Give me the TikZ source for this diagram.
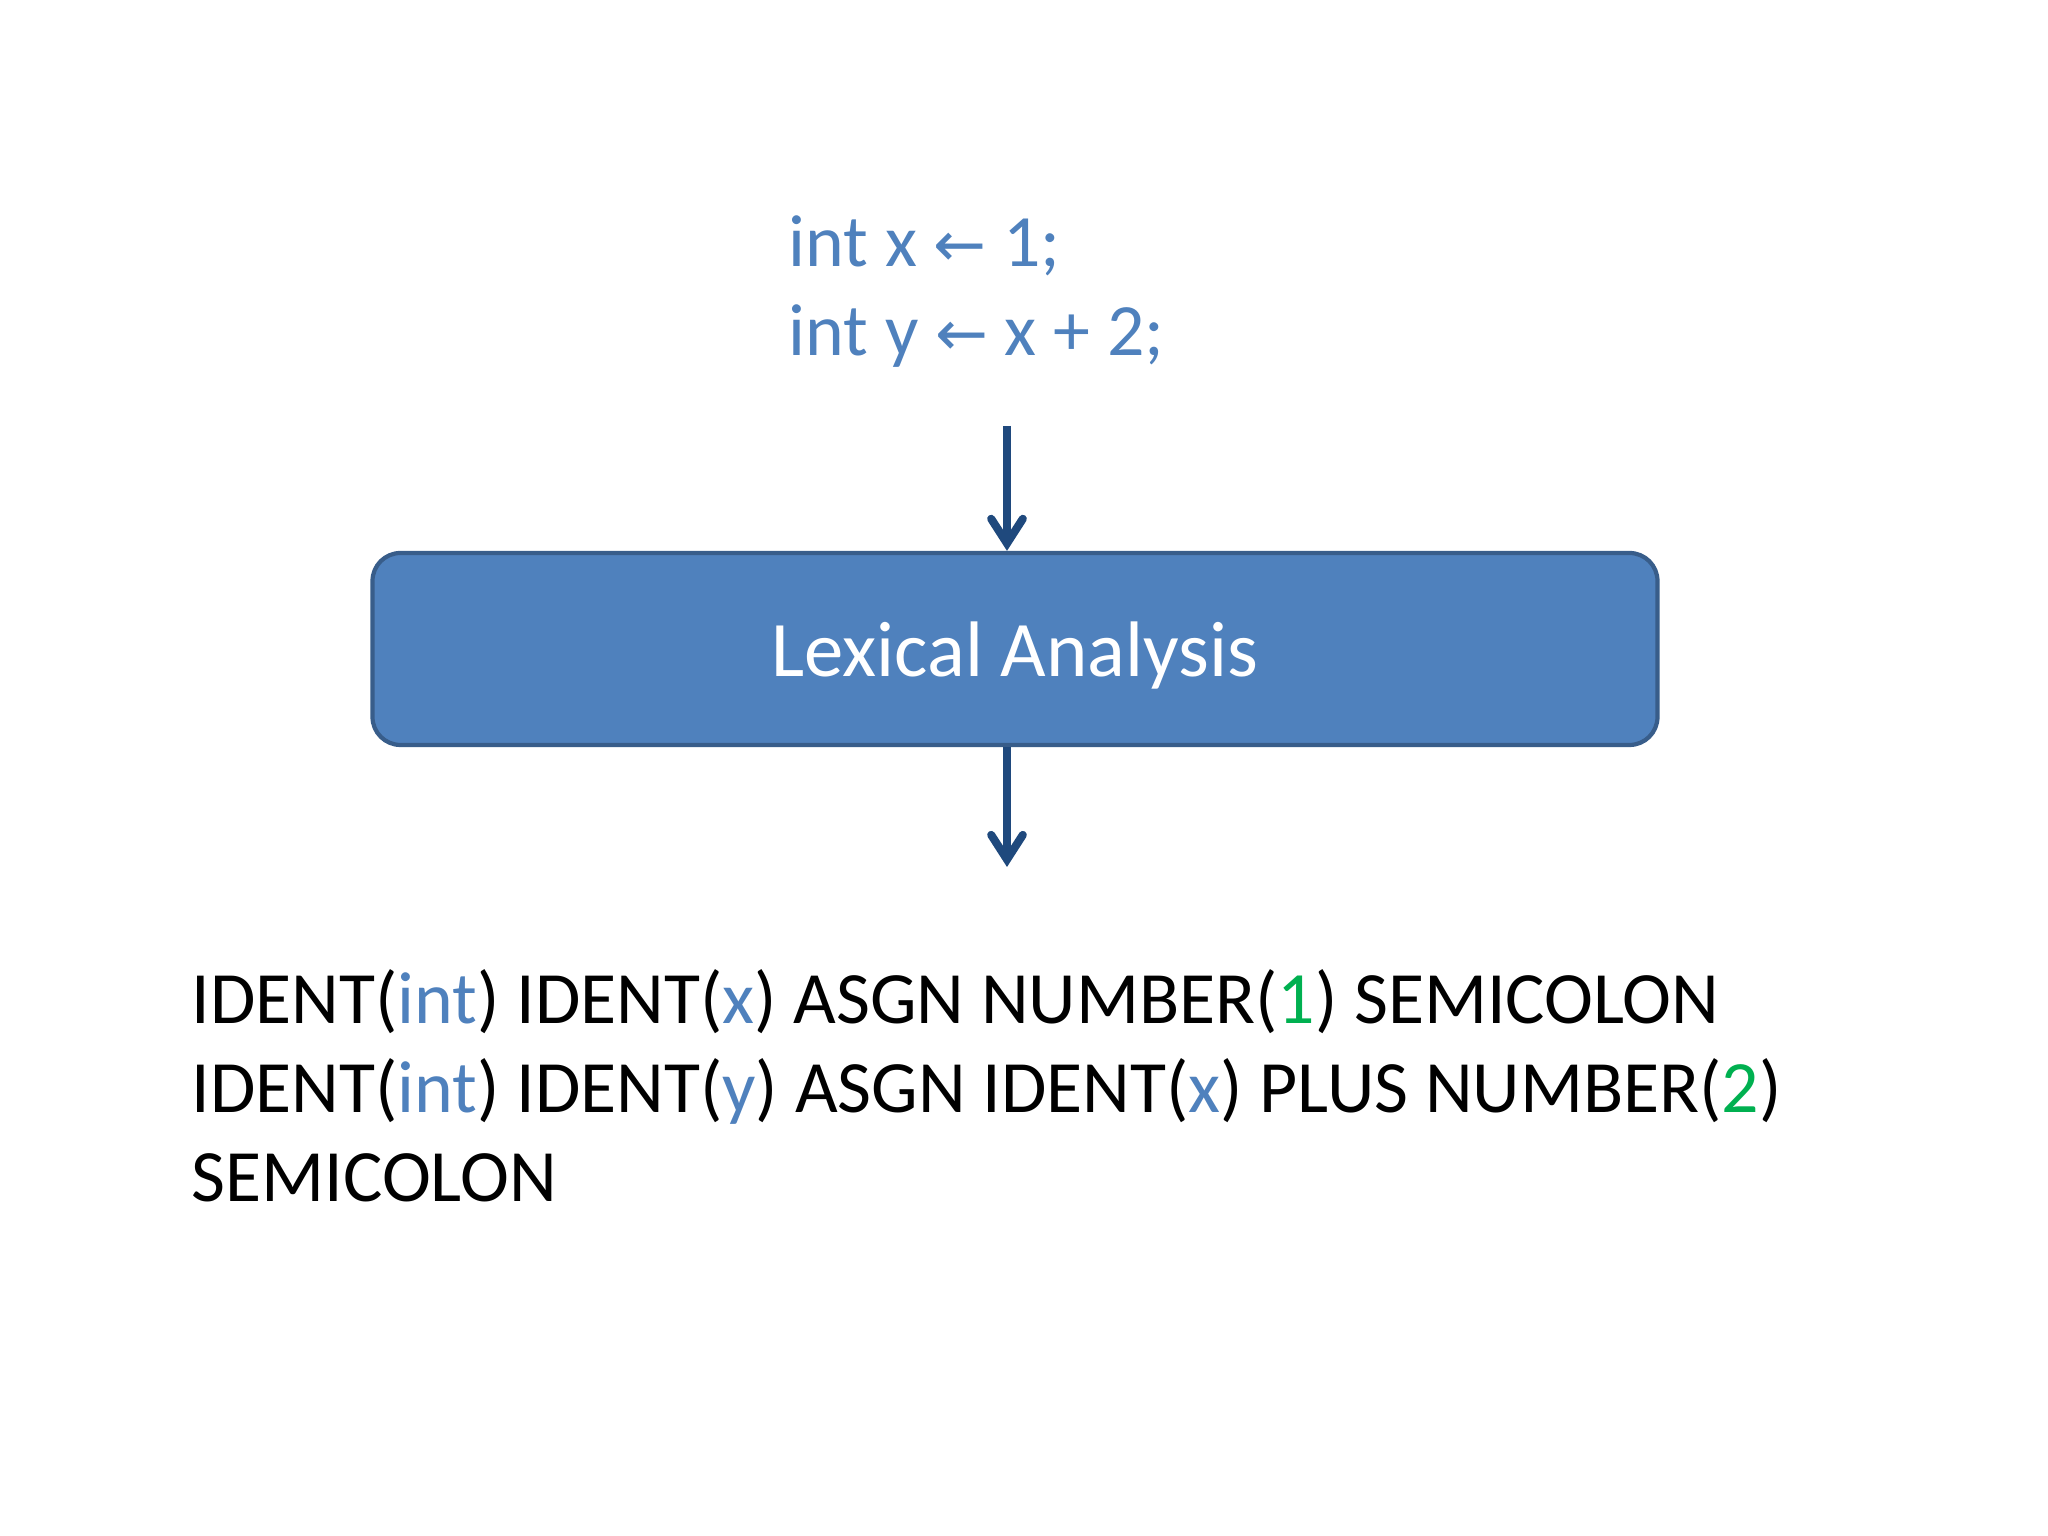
\documentclass[tikz,border=0pt]{standalone}
\usepackage{fontspec}
\usepackage{xcolor}
\usetikzlibrary{arrows.meta}
\setmainfont{Carlito}
\newfontfamily\symfont{DejaVu Sans}

\definecolor{codeblue}{HTML}{4F81BD}
\definecolor{boxline}{HTML}{385D8A}
\definecolor{flowblue}{HTML}{1F497D}
\definecolor{numgreen}{HTML}{00B050}

\newcommand{\tkid}[1]{\textcolor{codeblue}{#1}}
\newcommand{\tknum}[1]{\textcolor{numgreen}{#1}}
\newcommand{\asgnarrow}{{\symfont\fontsize{18}{20}\selectfont ←}}

\begin{document}
\begin{tikzpicture}[
    txt/.style={anchor=base west,inner sep=0pt,font=\fontsize{21}{25}\selectfont},
    phase/.style={draw=boxline,line width=1.2pt,fill=codeblue,text=white,
      rounded corners=0.28cm,minimum width=12.85cm,minimum height=1.92cm,
      text depth=0pt,font=\fontsize{22.4}{27}\selectfont},
    flow/.style={draw=flowblue,line width=2.3pt,
      -{Straight Barb[length=7pt,width=9pt,line cap=round]}}
  ]
  \useasboundingbox (0,0) rectangle (20.48,15.36);
  % source program
  \node[txt,text=codeblue] (code1) at (7.88,12.69) {int x \asgnarrow{} 1;};
  \node[txt,text=codeblue] (code2) at (7.88,11.80) {int y \asgnarrow{} x + 2;};
  \node[phase] (lex) at (10.15,8.87) {Lexical Analysis};
  % token stream
  \node[txt] (tok1) at (1.91,5.12) {IDENT(\tkid{int}) IDENT(\tkid{x}) ASGN NUMBER(\tknum{1}) SEMICOLON};
  \node[txt] (tok2) at (1.91,4.23) {IDENT(\tkid{int}) IDENT(\tkid{y}) ASGN IDENT(\tkid{x}) PLUS NUMBER(\tknum{2})};
  \node[txt] (tok3) at (1.91,3.34) {SEMICOLON};
  \coordinate (in) at (10.07,11.10);
  \coordinate (out) at (10.07,6.69);
  \draw[flow] (in) -- (in |- lex.north);
  \draw[flow] (out |- lex.south) -- (out);
\end{tikzpicture}
\end{document}
